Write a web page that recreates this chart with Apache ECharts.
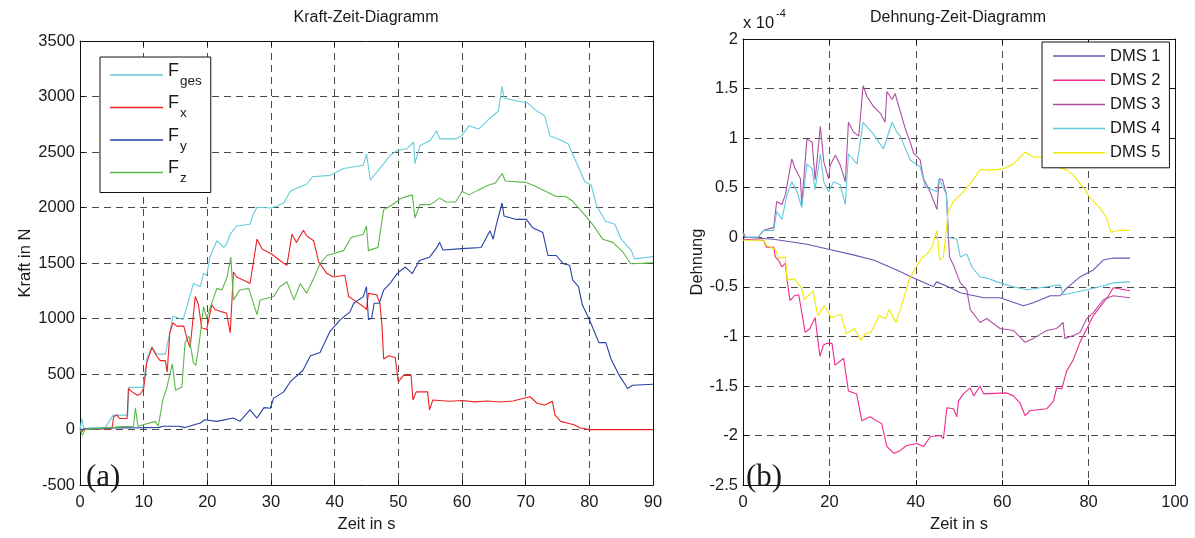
<!DOCTYPE html>
<html>
<head>
<meta charset="utf-8">
<script src="https://cdn.jsdelivr.net/npm/echarts@6/dist/echarts.min.js"></script>
<style>
html,body{margin:0;padding:0;background:#fff;}
#c{width:1195px;height:538px;}
</style>
</head>
<body>
<div id="c"></div>
<script>
// ---------- data: left chart (Kraft in N over Zeit in s) ----------
const kraftNames = ['Fges', 'Fx', 'Fy', 'Fz'];
const kraftSubs = {Fges: 'ges', Fx: 'x', Fy: 'y', Fz: 'z'};
const kraftXTicks = [0, 90, 10];
const kraftYTicks = [-500, 3500, 500];

const fges = [[0,0],[0.3,100],[0.6,10],[2,15],[4,20],[5.2,130],[7.5,130],[7.7,380],[9.9,380],[10.5,641],[11.3,745],[12,680],[13.4,680],[14.1,872],[14.6,1020],[16.2,991],[16.8,1109],[17.8,1316],[18.9,1287],[19.4,1405],[19.9,1390],[20.4,1553],[21.5,1701],[22.6,1641],[23,1671],[23.6,1760],[24.6,1834],[26.7,1849],[27.2,1937],[27.8,2002],[29.9,1996],[30.9,2011],[32,2041],[33,2145],[34,2174],[35.6,2210],[36.5,2277],[39.3,2290],[41.4,2351],[44.5,2381],[45,2484],[45.6,2248],[47.2,2360],[47.7,2396],[48.7,2469],[49.8,2514],[51.3,2529],[52.4,2588],[52.6,2396],[53.4,2558],[55,2603],[56,2692],[56.5,2618],[59,2618],[60,2650],[61.1,2736],[62.6,2707],[64.2,2795],[65.7,2869],[66.3,3091],[66.6,2987],[68.8,2958],[70.3,2943],[71.4,2884],[73,2824],[73.8,2647],[75.1,2618],[76.7,2573],[77.7,2440],[79.3,2233],[80.3,2203],[81.1,2026],[82.5,1878],[84,1849],[85,1715],[86.6,1612],[87.1,1538],[90,1559]];

const fx = [[0,0],[0.3,-20],[0.6,5],[5,5],[5.3,118],[5.8,130],[6.2,100],[7.4,100],[7.6,370],[8.2,340],[9,310],[9.5,320],[10,370],[10.5,606],[11.3,739],[12,665],[12.6,621],[13.4,621],[13.7,517],[14.1,872],[14.6,961],[15.2,932],[16.3,932],[16.8,816],[17.3,739],[18.1,1198],[18.6,1127],[19.1,917],[19.9,902],[20.7,1124],[21.2,1082],[22,1065],[23,1050],[23.6,872],[24.1,1420],[24.6,1375],[25.7,1346],[26.7,1316],[27.2,1494],[27.8,1715],[28.6,1627],[30.1,1582],[31.4,1523],[32.5,1479],[33.3,1760],[34,1686],[35.1,1795],[35.6,1745],[36.7,1701],[37.5,1508],[38.8,1405],[39.8,1375],[41.6,1390],[42.2,1198],[43,1168],[44.5,1109],[45,1082],[45.3,1227],[46.6,1215],[47.1,1138],[47.4,961],[47.7,636],[48.5,665],[49.5,650],[50,429],[50.8,488],[52,488],[52.3,266],[52.8,340],[54.6,340],[54.9,177],[55.4,266],[58,255],[60,262],[62,250],[64,258],[66,248],[68,257],[70.7,296],[71.8,237],[73,222],[74.2,255],[74.6,133],[75.5,74],[77.6,44],[78.6,15],[80,0],[90,0]];

const fy = [[0,0],[0.3,15],[5,15],[10,18],[12.5,20],[13,30],[15.5,30],[16.5,18],[18.9,59],[19.6,89],[21.5,74],[24.1,104],[25.1,74],[26.7,177],[27.8,104],[28.9,198],[29.9,192],[30.4,281],[32,340],[33,429],[35,532],[36.2,665],[37.7,695],[39.3,887],[40.9,991],[42.4,1060],[43,1138],[44.5,1198],[45,1287],[45.3,991],[45.8,1000],[46.2,1138],[47,1138],[47.7,1257],[48.7,1316],[49.8,1405],[51.1,1464],[52.2,1405],[53.3,1523],[54.9,1553],[55.9,1627],[56.5,1686],[57,1618],[60,1630],[63,1640],[64.4,1790],[64.9,1715],[65.4,1849],[66.3,2041],[66.6,1923],[68.5,1893],[70.1,1893],[71.1,1819],[72.7,1775],[73.5,1568],[74.8,1568],[75.9,1494],[76.9,1480],[77.4,1346],[78.3,1287],[78.9,1124],[80,991],[81.5,783],[82.6,783],[83.4,636],[84.7,488],[85.7,399],[86,370],[86.8,399],[90,408]];

const fz = [[0,0],[0.4,-50],[0.8,0],[6.6,27],[8.4,30],[8.7,195],[9.1,30],[11.8,74],[12.3,30],[13,266],[13.6,370],[14.5,592],[15,355],[16,384],[16.5,783],[17.1,843],[17.8,606],[18.2,577],[18.8,813],[19.4,1109],[19.9,1005],[21.5,1272],[22.3,1257],[23.1,1375],[23.7,1553],[24.1,1168],[25.1,1257],[26.5,1272],[27.8,1035],[28.3,1168],[30.4,1198],[31.4,1287],[32.5,1331],[33.6,1168],[34.6,1316],[35.6,1227],[36.7,1360],[37.7,1494],[38.8,1568],[41.4,1612],[42.6,1730],[44.5,1760],[45,1834],[45.3,1612],[46.8,1641],[47.7,1981],[48.7,2011],[49.8,2056],[50.5,2085],[52.2,2114],[52.6,1908],[53.4,2026],[55,2026],[56.5,2085],[57.5,2050],[59,2050],[60,2145],[61.1,2114],[62.6,2159],[64.2,2203],[65.2,2218],[66.3,2307],[66.8,2239],[70,2227],[71.6,2189],[73.2,2145],[74.8,2100],[76.3,2100],[77.4,2056],[79,1952],[80.5,1849],[82.1,1715],[83.7,1686],[85.3,1597],[86.5,1494],[90,1502]];

// ---------- data: right chart (Dehnung in 1e-4 over Zeit in s) ----------
const dmsNames = ['DMS 1', 'DMS 2', 'DMS 3', 'DMS 4', 'DMS 5'];
const dehnXTicks = [0, 100, 20];
const dehnYTicks = [-2.5, 2, 0.5];

const dms1 = [[0,0.05],[0.5,0],[7.1,-0.02],[14.8,-0.07],[19.8,-0.12],[24.8,-0.17],[30.2,-0.23],[35.6,-0.33],[39.5,-0.41],[44.1,-0.5],[44.8,-0.45],[48,-0.51],[50.3,-0.56],[55.7,-0.61],[59.5,-0.61],[64.9,-0.69],[67.2,-0.66],[71.1,-0.59],[73.4,-0.59],[75,-0.51],[78,-0.4],[81.1,-0.33],[83.4,-0.23],[85.7,-0.21],[89.6,-0.21]];

const dms2 = [[0,-0.02],[4.8,-0.03],[5.4,-0.1],[7.1,-0.1],[7.5,-0.2],[8.2,-0.23],[9,-0.3],[9.8,-0.26],[10.2,-0.43],[10.9,-0.64],[11.9,-0.59],[12.9,-0.58],[14.4,-0.96],[15.5,-0.92],[16.7,-0.81],[17.8,-1.2],[18.6,-1.09],[19.4,-1.07],[20.6,-1.07],[21.3,-1.29],[23.3,-1.22],[24.4,-1.55],[26.3,-1.58],[27.5,-1.85],[29.4,-1.81],[32.1,-1.88],[33.3,-2.11],[34.9,-2.18],[36.4,-2.15],[37.9,-2.1],[40.2,-2.08],[41.8,-2.11],[43.4,-2.01],[45.7,-2.0],[46.4,-2.03],[47.2,-1.72],[48.7,-1.73],[49.5,-1.81],[49.9,-1.65],[51,-1.58],[52.6,-1.52],[53.4,-1.6],[54.9,-1.5],[55.7,-1.58],[61,-1.57],[62.6,-1.6],[64.1,-1.67],[65.3,-1.8],[66.4,-1.75],[70.3,-1.73],[71.9,-1.65],[72.6,-1.52],[73.8,-1.53],[74.9,-1.35],[76.4,-1.24],[78,-1.06],[79.6,-0.92],[81.1,-0.79],[83.4,-0.66],[84.6,-0.59],[85.7,-0.51],[89.6,-0.54]];

const dms3 = [[0,0.05],[0.5,0],[3.5,0],[4.8,0.07],[7.1,0.1],[7.8,0.36],[9,0.33],[9.8,0.43],[11.3,0.79],[12.1,0.69],[13.3,0.59],[13.6,0.33],[14.8,0.99],[16,0.96],[16.7,0.58],[17.9,1.12],[18.7,0.76],[19.8,0.59],[20.2,0.73],[21.4,0.83],[22.5,0.73],[23.7,0.56],[24.4,1.16],[25.6,1.06],[26.8,1.02],[27.8,1.53],[28.7,1.42],[30.2,1.32],[31.8,1.25],[32.9,1.16],[33.3,1.47],[34.5,1.39],[35.2,1.45],[36.4,1.27],[37.6,1.09],[38.7,0.96],[39.5,0.85],[41,0.78],[41.8,0.59],[43.3,0.46],[44.9,0.28],[45.4,0.59],[46.2,0.58],[47.1,0.43],[47.8,-0.2],[48.7,-0.28],[50.3,-0.46],[51.8,-0.53],[52.6,-0.73],[54.9,-0.86],[56.4,-0.82],[59.5,-0.92],[62.6,-0.94],[65.3,-1.06],[67.2,-1.02],[70.3,-0.94],[72.6,-0.92],[74.1,-0.86],[74.5,-1.02],[76.5,-0.99],[78,-0.96],[79.6,-0.82],[81.1,-0.76],[83.4,-0.63],[85.7,-0.59],[89.6,-0.61]];

const dms4 = [[0,0.03],[0.5,0],[3.5,0],[4.8,0.07],[7.1,0.07],[7.8,0.26],[9,0.18],[10.2,0.43],[11.3,0.56],[12.5,0.46],[13.6,0.3],[14.8,0.74],[16,0.69],[16.7,0.48],[17.9,0.84],[18.7,0.56],[19.8,0.46],[21,0.56],[22.5,0.53],[23.7,0.33],[24.4,0.84],[26.4,0.74],[27.8,1.16],[30.2,1.04],[32.5,0.89],[34.5,1.16],[35.6,1.06],[36.4,1.02],[38.7,0.78],[41,0.71],[42.2,0.51],[44.9,0.46],[45.4,0.59],[47.1,0.43],[47.5,0],[49.5,-0.02],[50.3,-0.2],[51.8,-0.17],[53,-0.3],[54.9,-0.4],[56.4,-0.41],[59.5,-0.46],[62.6,-0.5],[65.7,-0.53],[68.8,-0.51],[73.4,-0.48],[74.1,-0.58],[76.5,-0.56],[79.6,-0.53],[82.6,-0.5],[85.7,-0.46],[89.6,-0.45]];

const dms5 = [[0,-0.03],[4.8,-0.03],[5.4,-0.08],[7.5,-0.12],[8.2,-0.21],[9.8,-0.2],[10.2,-0.43],[11.9,-0.42],[13.5,-0.51],[14.2,-0.63],[16.2,-0.54],[17.3,-0.79],[18.9,-0.69],[20.4,-0.81],[22.7,-0.78],[23.9,-0.97],[25.8,-0.92],[27.3,-1.04],[28.4,-0.97],[29.6,-0.96],[31.5,-0.79],[33,-0.82],[33.8,-0.73],[35.4,-0.86],[36.9,-0.66],[38.5,-0.43],[40,-0.3],[41.6,-0.2],[42.6,-0.17],[43.7,-0.1],[44.9,0.07],[45.5,-0.23],[46.4,-0.2],[47.5,0.26],[48.7,0.36],[49.9,0.41],[51,0.46],[52.6,0.54],[54.9,0.68],[58,0.68],[60.3,0.69],[62.6,0.74],[65.3,0.86],[67.2,0.81],[70.6,0.81],[72.6,0.71],[74.9,0.68],[76.4,0.63],[78.8,0.5],[80.3,0.4],[82.6,0.3],[84.1,0.2],[85.2,0.05],[87.1,0.07],[89.6,0.07]];

// ---------- styling ----------
const FONT = 'Liberation Sans, Arial, sans-serif';
const FS = 16.5;
const kraftColors = ['#66ccdc', '#ee2024', '#2442a0', '#5cb84a'];
const dmsColors = ['#7052b2', '#f02a8e', '#b04ea2', '#60c8dc', '#f2ea00'];
const gridLine = {show: true, lineStyle: {color: '#4a4a4a', type: [7, 5], width: 1}};
const plainNum = v => String(Math.round(v * 1000) / 1000);

function mainX(gi, t, name) {
  return {
    gridIndex: gi, type: 'value', min: t[0], max: t[1], interval: t[2], position: 'bottom',
    axisLine: {show: true, onZero: false, lineStyle: {color: '#111', width: 1}},
    axisTick: {show: true, inside: true, length: 5, lineStyle: {color: '#111'}},
    axisLabel: {color: '#1a1a1a', fontSize: FS, fontFamily: FONT, margin: 9, formatter: plainNum},
    splitLine: gridLine,
    name: name, nameLocation: 'middle', nameGap: 28,
    nameTextStyle: {color: '#1a1a1a', fontSize: FS, fontFamily: FONT}
  };
}
function sideX(gi, t) {
  return {
    gridIndex: gi, type: 'value', min: t[0], max: t[1], interval: t[2], position: 'top',
    axisLine: {show: true, onZero: false, lineStyle: {color: '#111', width: 1}},
    axisTick: {show: true, inside: true, length: 5, lineStyle: {color: '#111'}},
    axisLabel: {show: false}, splitLine: {show: false}
  };
}
function mainY(gi, t, name, gap) {
  return {
    gridIndex: gi, type: 'value', min: t[0], max: t[1], interval: t[2], position: 'left',
    axisLine: {show: true, onZero: false, lineStyle: {color: '#111', width: 1}},
    axisTick: {show: true, inside: true, length: 5, lineStyle: {color: '#111'}},
    axisLabel: {color: '#1a1a1a', fontSize: FS, fontFamily: FONT, margin: 5, formatter: plainNum},
    splitLine: gridLine,
    name: name, nameLocation: 'middle', nameGap: gap, nameRotate: 90,
    nameTextStyle: {color: '#1a1a1a', fontSize: FS, fontFamily: FONT}
  };
}
function sideY(gi, t) {
  return {
    gridIndex: gi, type: 'value', min: t[0], max: t[1], interval: t[2], position: 'right',
    axisLine: {show: true, onZero: false, lineStyle: {color: '#111', width: 1}},
    axisTick: {show: true, inside: true, length: 5, lineStyle: {color: '#111'}},
    axisLabel: {show: false}, splitLine: {show: false}
  };
}

const kraftData = [fges, fx, fy, fz];
const dmsData = [dms1, dms2, dms3, dms4, dms5];
const series = [];
kraftNames.forEach((n, i) => series.push({
  name: n, type: 'line', xAxisIndex: 0, yAxisIndex: 0, data: kraftData[i],
  symbol: 'none', color: kraftColors[i], lineStyle: {width: 1.1}, animation: false
}));
dmsNames.forEach((n, i) => series.push({
  name: n, type: 'line', xAxisIndex: 2, yAxisIndex: 2, data: dmsData[i],
  symbol: 'none', color: dmsColors[i], lineStyle: {width: 1.1}, animation: false
}));

const chart = echarts.init(document.getElementById('c'), null, {renderer: 'canvas'});
chart.setOption({
  backgroundColor: '#fff',
  animation: false,
  grid: [
    {left: 80, top: 41, width: 573, height: 451, containLabel: false},
    {left: 743, top: 39, width: 432, height: 455, containLabel: false}
  ],
  xAxis: [mainX(0, kraftXTicks, 'Zeit in s'), sideX(0, kraftXTicks), mainX(1, dehnXTicks, 'Zeit in s'), sideX(1, dehnXTicks)],
  yAxis: [mainY(0, kraftYTicks, 'Kraft in N', 42), sideY(0, kraftYTicks), mainY(1, dehnYTicks, 'Dehnung', 30), sideY(1, dehnYTicks)],
  legend: [
    {
      data: kraftNames, orient: 'vertical', left: 100, top: 57, selectedMode: false,
      icon: 'rect', itemWidth: 53, itemHeight: 1.5, itemGap: 6.5,
      padding: [5, 8, 7, 10], borderColor: '#111', borderWidth: 1, backgroundColor: '#fff',
      formatter: n => '{F|F}{s|' + kraftSubs[n] + '}{h| }',
      textStyle: {
        fontFamily: FONT, color: '#1a1a1a',
        rich: {
          F: {fontSize: 18, lineHeight: 18, verticalAlign: 'top', fontFamily: FONT, color: '#1a1a1a'},
          s: {fontSize: 13.5, lineHeight: 13, verticalAlign: 'bottom', fontFamily: FONT, color: '#1a1a1a', padding: [0, 0, 0, 1]},
          h: {fontSize: 2, lineHeight: 26, verticalAlign: 'middle', width: 1}
        }
      }
    },
    {
      data: dmsNames, orient: 'vertical', left: 1042, top: 42, selectedMode: false,
      icon: 'rect', itemWidth: 52, itemHeight: 1.5, itemGap: 6.2,
      padding: [5, 9, 6, 11], borderColor: '#111', borderWidth: 1, backgroundColor: '#fff',
      textStyle: {fontFamily: FONT, color: '#1a1a1a', fontSize: FS, lineHeight: 18}
    }
  ],
  graphic: [
    {type: 'text', x: 366, y: 18, style: {text: 'Kraft-Zeit-Diagramm', font: '16px ' + FONT, fill: '#1a1a1a', align: 'center', verticalAlign: 'middle'}},
    {type: 'text', x: 958, y: 18, style: {text: 'Dehnung-Zeit-Diagramm', font: '16px ' + FONT, fill: '#1a1a1a', align: 'center', verticalAlign: 'middle'}},
    {type: 'text', x: 743, y: 23, style: {text: 'x 10', font: '16.5px ' + FONT, fill: '#1a1a1a', align: 'left', verticalAlign: 'middle'}},
    {type: 'text', x: 776, y: 14, style: {text: '-4', font: '11px ' + FONT, fill: '#1a1a1a', align: 'left', verticalAlign: 'middle'}},
    {type: 'text', x: 86, y: 478, z: 10, style: {text: '(a)', font: '31px "Liberation Serif", "Times New Roman", serif', fill: '#1a1a1a', align: 'left', verticalAlign: 'middle'}},
    {type: 'text', x: 746, y: 478, z: 10, style: {text: '(b)', font: '31px "Liberation Serif", "Times New Roman", serif', fill: '#1a1a1a', align: 'left', verticalAlign: 'middle'}}
  ],
  series: series
});
</script>
</body>
</html>
